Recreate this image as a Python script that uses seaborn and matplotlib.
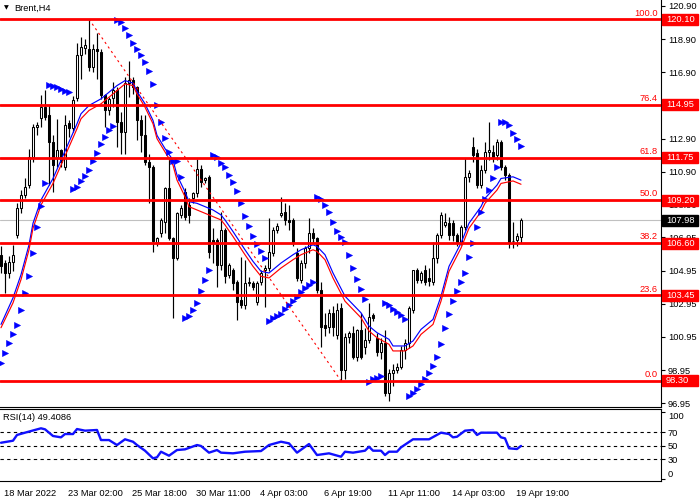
import numpy as np
import pandas as pd
import matplotlib
matplotlib.use("Agg")
import matplotlib.pyplot as plt
import matplotlib.transforms as mtransforms
from matplotlib.patches import Rectangle
import seaborn as sns

# ---------------- data ----------------
opens = [105.9,105.4,104.8,105.45,107.09,108.70,109.50,110.11,111.81,113.62,
         114.13,114.83,114.33,112.72,111.71,112.22,111.21,113.82,113.52,115.33,
         117.94,118.35,118.3,117.25,118.3,118.15,115.53,114.6,115.33,115.83,
         113.93,113.32,116.24,116.44,116.0,114.03,113.12,111.5,111.2,106.6,
         107.19,107.9,109.9,106.89,105.68,108.3,109.7,108.9,109.3,109.6,
         111.1,110.4,110.6,106.79,106.79,105.3,107.4,104.68,104.98,104.28,
         103.17,102.87,104.18,104.18,103.07,104.28,104.98,105.08,105.99,107.39,
         108.3,108.5,108.0,108.0,105.99,104.38,105.38,106.29,107.19,106.89,
         103.77,101.66,101.56,102.37,101.06,102.67,98.95,100.96,101.16,99.75,
         101.36,100.36,100.76,102.27,100.86,100.06,100.56,97.54,98.75,98.95,
         99.15,100.16,100.56,102.57,104.98,104.38,104.98,104.5,104.28,105.68,
         107.09,107.7,107.8,107.8,107.09,106.69,107.59,110.61,112.42,112.02,
         110.11,111.01,112.1,112.12,111.92,112.72,111.21,110.71,106.75,106.79,
         106.99]
highs = [106.4,105.6,105.8,106.5,109.0,109.8,110.5,112.3,113.8,113.92,
         115.53,115.83,114.93,113.12,114.1,112.3,114.3,114.0,115.5,118.65,
         119.0,118.9,120.10,118.6,119.3,118.3,115.6,115.4,116.34,116.0,
         114.5,116.6,117.6,116.6,116.1,114.3,114.3,112.0,111.3,107.0,
         108.1,110.0,111.81,107.0,108.5,108.9,109.9,109.3,109.7,111.7,
         111.3,110.6,110.7,107.5,106.9,108.5,107.5,105.4,105.1,104.4,
         105.78,105.58,104.58,104.3,104.3,105.0,105.3,108.1,107.6,107.8,
         109.4,109.0,108.9,108.1,106.3,105.6,106.4,108.1,107.5,107.0,
         104.28,102.4,102.6,102.8,102.97,103.0,101.2,101.3,101.6,101.4,
         102.37,101.5,102.97,102.4,101.2,100.9,101.36,99.0,99.3,99.4,
         100.4,100.8,102.8,105.0,105.1,104.9,105.3,105.1,106.69,107.2,
         108.5,108.4,108.2,108.0,107.2,107.7,111.71,111.0,113.02,112.3,
         111.3,112.72,113.93,112.5,112.9,112.8,111.3,110.8,107.9,107.2,
         108.1]
lows = [104.8,103.6,104.5,104.9,106.9,108.4,109.3,109.9,111.5,113.12,
        113.62,114.0,110.11,109.70,111.2,111.2,111.0,113.0,113.3,115.2,
        116.5,118.0,117.0,116.9,116.5,115.3,113.6,114.3,114.83,112.4,
        112.0,112.0,115.4,115.6,112.82,112.1,111.3,109.0,106.09,106.4,
        107.0,107.2,106.79,102.07,105.6,108.1,108.0,107.8,109.0,109.4,
        110.0,110.2,105.68,105.4,103.97,105.0,104.2,104.5,103.8,101.97,
        102.7,102.6,104.0,103.8,102.9,104.1,102.77,104.9,105.8,107.2,
        108.2,107.7,107.4,106.4,104.3,104.2,105.1,106.0,106.6,103.6,
        100.36,101.0,101.2,101.0,100.8,98.30,98.4,100.6,99.6,99.5,
        99.6,99.9,100.6,101.9,99.8,99.6,97.4,97.1,98.0,98.8,
        99.0,99.6,100.3,102.4,104.2,104.2,104.1,104.0,104.08,105.4,
        106.9,107.6,106.8,106.7,106.4,106.5,107.4,110.3,111.5,109.9,
        109.9,110.8,111.6,111.5,111.6,111.0,110.4,106.3,106.3,106.4,
        106.6]
closes = [105.2,104.8,105.45,105.9,108.70,109.50,110.01,111.81,113.62,113.72,
          114.83,114.23,112.72,111.31,112.22,111.51,113.72,113.52,115.23,117.94,
          118.45,118.55,117.25,118.3,118.2,115.53,114.63,115.3,115.83,113.93,
          113.32,116.24,116.44,116.04,114.0,113.12,111.5,111.2,106.7,106.89,
          107.99,109.9,106.89,105.68,108.40,108.7,108.2,108.3,109.6,111.1,
          110.3,110.5,106.09,106.59,105.28,107.4,104.6,105.28,104.18,103.07,
          102.87,104.18,104.2,103.98,104.18,104.78,105.08,106.09,107.39,107.63,
          108.4,108.0,107.9,106.59,104.48,105.38,106.29,107.19,106.89,103.77,
          101.56,101.46,102.37,101.56,102.57,98.95,100.96,101.16,99.75,101.36,
          99.75,100.76,102.17,102.07,100.06,100.56,97.54,98.75,98.95,99.15,
          100.16,100.56,102.67,104.98,104.38,104.78,104.28,104.3,105.68,107.09,
          108.30,107.85,107.09,107.09,106.69,107.59,110.61,110.81,111.92,110.11,
          111.01,112.12,112.2,111.81,112.72,111.21,110.71,106.69,106.7,107.03,
          107.98]

sar = [99.4,100.0,100.6,101.12,101.66,102.57,103.6,104.62,106.0,107.57,
       108.84,110.23,116.14,116.1,116.0,115.9,115.8,115.7,109.87,109.99,
       110.35,110.65,111.01,111.55,112.03,112.58,113.0,113.42,113.66,120.06,
       119.94,119.57,119.15,118.67,118.31,117.95,117.52,116.98,116.2,114.93,
       113.9,112.94,112.1,111.55,111.55,110.59,102.09,102.21,102.57,102.99,
       103.71,104.38,104.98,111.92,111.8,111.43,111.19,110.71,110.29,109.74,
       109.02,108.24,107.63,107.03,106.55,106.13,105.70,101.91,102.09,102.21,
       102.33,102.63,102.87,103.11,103.35,103.65,103.9,104.08,104.26,109.38,
       109.26,108.9,108.48,107.88,107.33,106.97,106.67,105.89,105.1,104.44,
       103.84,103.23,98.23,98.41,98.47,98.59,102.99,102.87,102.63,102.45,
       102.27,102.03,97.38,97.56,97.8,98.11,98.41,98.77,99.19,99.74,
       100.52,101.48,102.33,103.11,103.71,104.26,104.8,105.77,106.61,107.57,
       108.48,109.26,109.8,110.53,111.19,113.9,113.9,113.72,113.24,112.88,
       112.46]

ma_idx = [0,3,5,7,8,10,13,15,17,19,20,22,25,27,29,31,33,34,36,38,39,41,43,44,46,
          47,49,51,53,55,56,58,61,63,65,67,68,70,73,75,78,79,81,83,86,88,90,92,94,97,
          98,101,103,105,108,110,112,115,117,120,121,124,125,128,130]
ma_blue = [101.7,103.3,104.7,106.5,107.8,109.2,110.5,111.6,112.7,113.8,
           114.4,114.9,115.3,115.7,116.1,116.4,116.25,115.75,115.0,114.0,
           113.1,112.3,111.6,110.7,109.7,109.1,109.0,108.8,108.6,108.3,
           108.0,107.3,106.2,105.5,104.9,104.8,105.0,105.4,105.9,106.2,
           106.5,106.4,105.9,104.8,103.4,102.9,102.4,101.6,101.2,100.8,
           100.4,100.4,100.7,101.4,102.0,103.4,105.2,106.6,107.8,108.8,
           109.3,110.1,110.5,110.6,110.4]
ma_red = [101.5,103.0,104.4,106.2,107.5,108.9,110.2,111.3,112.4,113.5,
          114.1,114.6,115.0,115.4,115.8,116.2,116.1,115.6,114.8,113.8,
          112.9,112.1,111.3,110.4,109.4,108.8,108.6,108.4,108.2,108.0,
          107.7,107.0,105.9,105.2,104.6,104.5,104.7,105.1,105.6,105.9,
          106.2,106.1,105.6,104.5,103.1,102.6,102.1,101.3,100.9,100.5,
          100.1,100.1,100.4,101.1,101.7,103.1,104.9,106.3,107.5,108.5,
          109.0,109.8,110.2,110.35,110.15]

rsi_idx = [0,3,4,6,10,11,13,15,16,18,19,21,24,25,27,29,31,33,34,36,38,39,40,42,44,
           46,49,50,52,54,55,58,61,65,67,70,72,74,77,79,82,85,86,88,91,92,93,95,96,97,
           99,100,103,107,110,112,113,114,116,118,119,120,124,125,126,127,129,130]
rsi_val = [54.1,57.1,65.6,69.0,75.5,74.0,64.1,62.1,67.0,67.0,
           74.4,72.0,73.0,58.1,58.1,50.7,59.2,55.6,50.7,42.3,
           31.0,32.5,40.8,34.9,43.3,44.3,50.7,49.3,39.4,43.3,
           39.4,38.4,40.8,41.8,50.7,55.6,53.2,39.4,52.2,35.9,
           38.4,33.4,40.8,39.4,42.3,48.2,42.3,42.3,35.9,40.8,
           40.8,47.3,59.2,59.2,69.0,67.0,62.1,63.0,72.0,73.0,
           65.6,69.0,69.0,62.1,60.6,45.8,44.8,49.4]

fib_levels = [120.10, 114.95, 111.75, 109.20, 106.60, 103.45, 98.30]
fib_names = ["100.0", "76.4", "61.8", "50.0", "38.2", "23.6", "0.0"]
fib_anchor_bars = [22, 85]
fib_anchor_prices = [120.10, 98.30]
last_price = 107.98

price_ticks = [120.90, 118.90, 116.90, 112.90, 110.90, 108.90, 106.95,
               104.95, 102.95, 100.95, 98.95, 96.95]
date_tick_bars = [0, 16, 32, 48, 64, 80, 96, 112, 128]
date_labels = ["18 Mar 2022", "23 Mar 02:00", "25 Mar 18:00", "30 Mar 11:00",
               "4 Apr 03:00", "6 Apr 19:00", "11 Apr 11:00", "14 Apr 03:00",
               "19 Apr 19:00"]
rsi_levels = [70, 50, 30]
rsi_ticks = [100, 70, 50, 30, 0]

# ---------------- style ----------------
sns.set_style("white")
plt.rcParams['font.family'] = ['Liberation Sans', 'DejaVu Sans']
FS = 6.7

df = pd.DataFrame({"o": opens, "h": highs, "l": lows, "c": closes, "sar": sar})
df["bar"] = np.arange(len(df))

fig = plt.figure(figsize=(7, 5), dpi=100)
fig.patch.set_facecolor("white")
W, H = 700.0, 500.0
ax = fig.add_axes([0, 1 - 407 / H, 661 / W, 407 / H])
ax2 = fig.add_axes([0, 1 - 481 / H, 661 / W, 72 / H])

xlim = (-0.25, 165.0)
ax.set_xlim(*xlim)
ax.set_ylim(96.72, 121.26)

# candles
ax.vlines(df["bar"], df["l"], df["h"], color="black", lw=0.85, zorder=2)
bull = df["c"] >= df["o"]
body_bottom = np.minimum(df["o"], df["c"])
body_h = np.maximum(np.abs(df["c"] - df["o"]), 0.05)
ax.bar(df["bar"][bull], body_h[bull], bottom=body_bottom[bull], width=0.62,
       color="white", edgecolor="black", linewidth=0.75, zorder=3)
ax.bar(df["bar"][~bull], body_h[~bull], bottom=body_bottom[~bull], width=0.62,
       color="black", edgecolor="black", linewidth=0.75, zorder=3)

# moving averages
sns.lineplot(x=ma_idx, y=ma_blue, ax=ax, color="#0000FF", lw=0.85, zorder=4, estimator=None)
sns.lineplot(x=ma_idx, y=ma_red, ax=ax, color="#FF0000", lw=0.85, zorder=4, estimator=None)

# parabolic SAR
sns.scatterplot(data=df, x="bar", y="sar", ax=ax, marker=">", s=19, color="#0000FF",
                edgecolor="#0000FF", linewidth=0.4, zorder=5)

# current price line
ax.axhline(last_price, color="#C0C0C0", lw=0.8, zorder=1)

# fibonacci
for lvl, nm in zip(fib_levels, fib_names):
    ax.axhline(lvl, color="#FF0000", lw=2.0, zorder=6)
    ax.annotate(nm, xy=(1.0, lvl), xycoords=("axes fraction", "data"),
                xytext=(-2.5, 1.2), textcoords="offset points", ha="right", va="bottom",
                color="#FF0000", fontsize=FS, zorder=7)
ax.plot(fib_anchor_bars, fib_anchor_prices, color="#FF0000", lw=0.8,
        ls=(0, (2, 3)), zorder=6)

# axes styling main
for s in ["top", "left"]:
    ax.spines[s].set_visible(False)
ax.spines["right"].set_color("black")
ax.spines["bottom"].set_color("black")
ax.spines["right"].set_linewidth(0.8)
ax.spines["bottom"].set_linewidth(0.8)
ax.set_xticks([])
ax.yaxis.tick_right()
ax.set_yticks(price_ticks)
ax.set_yticklabels([f"{v:.2f}" for v in price_ticks])
ax.tick_params(axis="y", direction="out", length=3, width=0.8, pad=2,
               labelsize=FS, colors="black")
ax.set_xlabel("")
ax.set_ylabel("")

blend = mtransforms.blended_transform_factory(ax.transAxes, ax.transData)
tag_h = 11 * (121.26 - 96.72) / 407.0
for lvl in fib_levels:
    ax.add_patch(Rectangle((1 + 1 / 661, lvl - tag_h / 2), 36 / 661, tag_h,
                           transform=blend, color="#FF0000", clip_on=False, zorder=8))
    ax.text(1 + 5 / 661, lvl, f"{lvl:.2f}", transform=blend, color="white",
            fontsize=FS, va="center", ha="left", zorder=9, clip_on=False)
ax.add_patch(Rectangle((1 + 1 / 661, last_price - tag_h / 2), 36 / 661, tag_h,
                       transform=blend, color="black", clip_on=False, zorder=8))
ax.text(1 + 5 / 661, last_price, f"{last_price:.2f}", transform=blend, color="white",
        fontsize=FS, va="center", ha="left", zorder=9, clip_on=False)

ax.text(4 / 661, 1 - 8 / 407, "\u25BC", transform=ax.transAxes, fontsize=4.5,
        va="center", ha="left", color="black", family=["DejaVu Sans"])
ax.text(14 / 661, 1 - 8 / 407, "Brent,H4", transform=ax.transAxes, fontsize=FS,
        va="center", ha="left", color="black")

# ---------------- RSI panel ----------------
ax2.set_xlim(*xlim)
ax2.set_ylim(-2.6, 104.1)
sns.lineplot(x=rsi_idx, y=rsi_val, ax=ax2, color="#1010FF", lw=1.7, estimator=None)
for lv in rsi_levels:
    ax2.axhline(lv, color="black", lw=0.8, ls=(0, (3, 3)), zorder=1)
ax2.spines["left"].set_visible(False)
for s in ["top", "bottom", "right"]:
    ax2.spines[s].set_color("black")
    ax2.spines[s].set_linewidth(0.8)
ax2.yaxis.tick_right()
ax2.set_yticks(rsi_ticks)
ax2.set_yticklabels([str(v) for v in rsi_ticks])
ax2.tick_params(axis="y", direction="out", length=3, width=0.8, pad=2,
                labelsize=FS, colors="black")
ylabels = ax2.get_yticklabels()
ylabels[0].set_va("top")
ylabels[-1].set_va("bottom")
ax2.set_xticks(date_tick_bars)
ax2.set_xticklabels(date_labels)
ax2.tick_params(axis="x", direction="out", length=4, width=0.8, pad=2,
                labelsize=FS, colors="black")
offset = mtransforms.ScaledTranslation(2 / 72, 0, fig.dpi_scale_trans)
for lab in ax2.get_xticklabels():
    lab.set_ha("left")
    lab.set_transform(lab.get_transform() + offset)
ax2.set_xlabel("")
ax2.set_ylabel("")
ax2.text(3 / 661, 1 - 8 / 72, "RSI(14) 49.4086", transform=ax2.transAxes,
         fontsize=FS, va="center", ha="left", color="black")

fig.savefig("out.png", dpi=100, facecolor="white")
